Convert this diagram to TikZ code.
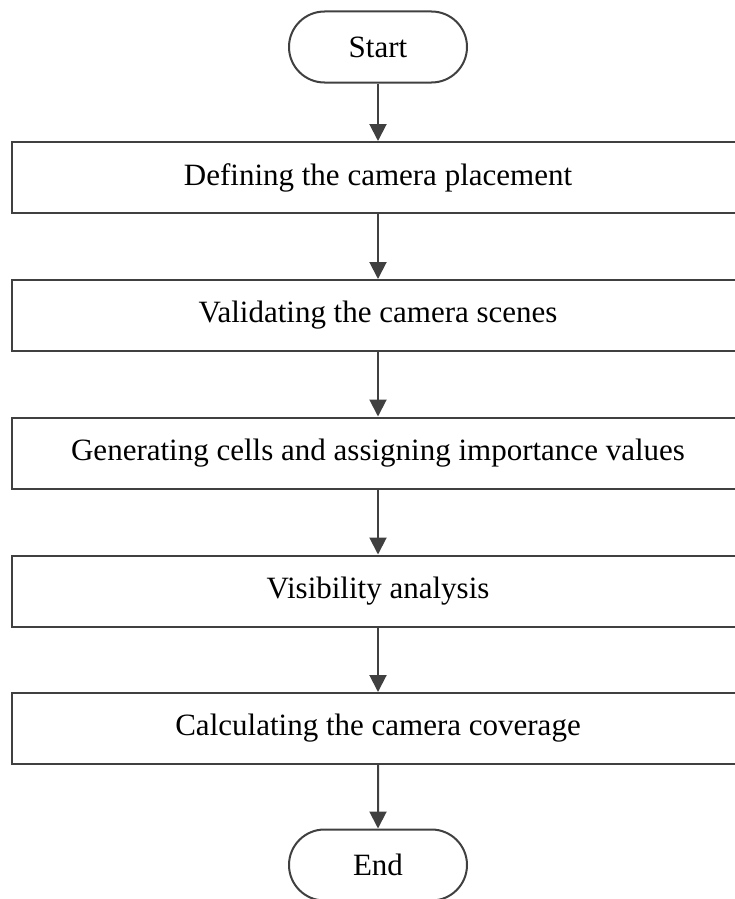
\documentclass[tikz,border=0pt]{standalone}
\usepackage{fontspec}
\setmainfont{Liberation Serif}
\usetikzlibrary{shapes.misc,arrows.meta}
\definecolor{linegray}{HTML}{404040}
\begin{document}
\begin{tikzpicture}[x=1pt,y=1pt,
  every node/.style={font=\fontsize{31}{36}\selectfont, text=black},
  terminal/.style={rounded rectangle, draw=linegray, line width=2pt, minimum width=178pt, minimum height=71pt, inner sep=0pt},
  stepbox/.style={rectangle, draw=linegray, line width=2pt, minimum width=732pt, minimum height=71pt, inner sep=0pt},
  arr/.style={draw=linegray, line width=2pt, -{Triangle[length=17pt,width=17pt]}}]
\useasboundingbox (0,0) rectangle (735,-899);
\node[terminal] (start) at (378,-47) {Start};
\node[stepbox] (b1) at (378,-177.5) {Defining the camera placement};
\node[stepbox] (b2) at (378,-315.5) {Validating the camera scenes};
\node[stepbox] (b3) at (378,-453) {Generating cells and assigning importance values};
\node[stepbox] (b4) at (378,-591) {Visibility analysis};
\node[stepbox] (b5) at (378,-728.5) {Calculating the camera coverage};
\node[terminal] (end) at (378,-865) {End};
\draw[arr] (start) -- (b1);
\draw[arr] (b1) -- (b2);
\draw[arr] (b2) -- (b3);
\draw[arr] (b3) -- (b4);
\draw[arr] (b4) -- (b5);
\draw[arr] (b5) -- (end);
\end{tikzpicture}
\end{document}
